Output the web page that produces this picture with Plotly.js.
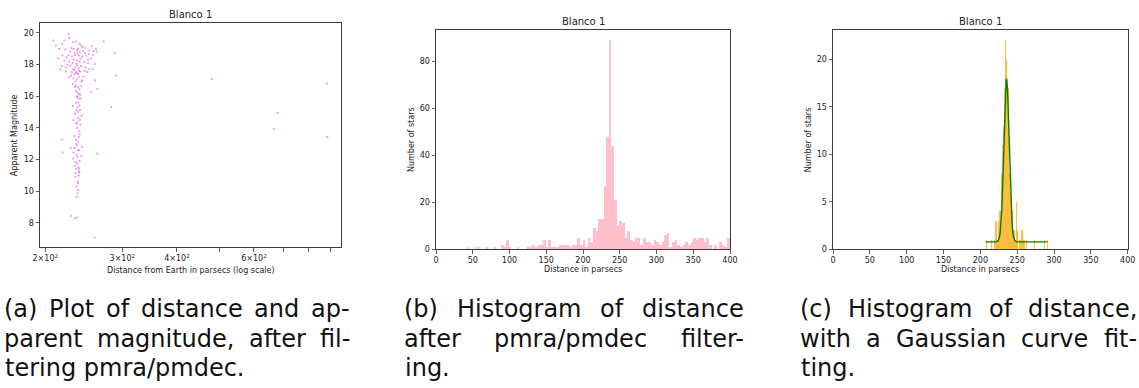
<!DOCTYPE html>
<html><head><meta charset="utf-8">
<script src="https://cdn.plot.ly/plotly-3.0.1.min.js"></script>
<style>html,body{margin:0;padding:0;background:#fff}#chart{width:1139px;height:388px}</style>
</head><body><div id="chart"></div>
<script>
// ---------- DATA ----------
const panelTitle = "Blanco 1";
const scatterDist = [225.9,227,208.5,211.4,221,218.3,231.5,235.1,239.4,243.2,255,272,222,228,232,236.6,240.2,246.7,251.5,262,288,219,223.6,230,234,238.6,243.2,248,254.5,221,227,232,236,239.4,245.5,250.6,259.6,218.3,222.9,228.6,231.5,234,236.6,238.6,241.4,247.5,252.2,222.9,230,233.2,235.1,237.8,240.2,249.3,260,290,232,236,238.6,242.4,231.5,235.1,237.8,239.4,236.6,238.6,254.5,263,
233.5,237,240.8,235.8,233,239,236.2,231,244,226,229.5,241.5,237.5,225,247,252,257,244.5,234.5,240.5,237,235,241,261,258,215,214,216.5,229,242.5,246,250.5,256.5,226.5,233.8,241.8,238,236,234.2,240,237,239.8,235.5,237.8,239.5,238.8,236.2,
236.6,238.6,235.1,231.5,236.6,239.4,240.2,237.8,283,241.9,232,237.8,235.1,240.7,236.6,239.4,233.2,238.6,218.8,235.1,238.2,236,228.6,233.2,242.3,238.6,219,232,236,263,241.9,231.5,236.6,234.5,236.6,233.9,238.2,235.1,234.5,238.6,239.4,234.5,238.6,237.1,237.5,237.8,237.1,236,229,233.2,236,259.6,
480.4,665.8,679.8,881.8,883];
const scatterMag = [19.94,19.67,19.52,19.2,19.52,19.31,19.41,19.46,19.31,19.1,19.16,19.46,18.95,18.83,18.99,18.89,18.78,18.74,18.67,18.83,18.74,18.57,18.47,18.53,18.61,18.57,18.53,18.57,18.4,18.26,18.19,18.32,18.26,18.19,18.15,18.1,18.04,17.9,17.83,17.94,17.73,17.83,17.94,17.77,17.9,17.83,17.73,17.56,17.52,17.41,17.52,17.41,17.56,17.52,17.0,17.31,17.14,17.06,17.2,16.93,16.78,16.68,16.57,16.46,16.25,16.15,16.25,16.46,
18.75,18.7,18.4,18.05,17.65,17.62,17.45,18.1,18.85,18.6,19.05,19.2,19.0,18.0,19.05,18.9,18.6,17.25,16.95,16.1,16.0,16.35,15.85,19.0,18.85,19.0,18.4,17.7,17.3,17.0,17.6,18.3,17.7,17.2,16.6,16.65,15.6,15.15,14.9,14.5,14.35,13.6,13.0,12.6,11.9,11.4,10.3,
15.96,15.86,15.6,15.39,15.33,15.43,15.12,15.01,15.33,14.76,14.49,14.63,14.28,14.21,14.0,13.79,13.49,13.43,13.27,13.24,13.11,12.9,12.74,12.74,12.8,12.59,12.44,12.44,12.32,12.38,12.23,12.07,12.17,11.85,11.75,11.6,11.53,11.41,11.14,11.24,11.2,10.93,10.99,10.61,10.51,10.08,9.87,9.66,8.44,8.29,8.34,7.08,
17.08,13.92,14.95,16.8,13.43];

const histBStart = 41.7, histBWidth = 3.583;
const histBCounts = [1,0,0,1,1,0,0,1,0,0, 1,0,0,2,1,4,1,0,0,1, 0,0,0,1,1,2,1,2,2,4, 1,4,1,1,1,2,2,2,2,1,
  2,2,5,2,4,1,5,3,9,8, 13,13,27,48,89,44,21,10,12,11, 5,8,4,3,5,5,2,5,3,3, 2,4,3,2,3,6,7,1,3,4,
  2,1,2,3,2,3,5,4,5,5, 3,5,2,0,2,0,3,2,1,5];

const histCStart = 207.4, histCWidth = 0.84;
const histCCounts = [1,1,0,1,0,0,1,0,0,1, 0,1,0,3,1,3,2,3,1,2, 3,2,4,4,11,8,11,8,13,15, 17,22,22,20,19,17,17,12,8,6,
  4,4,5,4,2,1,2,1,0,5, 1,2,0,2,1,2,1,2,0,2, 1,0,1,1,0,1,0,0,0,0, 0,0,0,0,0,0,0,0,1,0,
  0,0,0,0,0,0,0,0,0,0, 0,0,1,0,1,0,0,0,0,1];

const gaussX = [207,215,220,222,224,226,227,228,229,230,231,232,233,234,235,235.5,236,237,238,239,240,241,242,243,244,245,247,249,252,260,270,280,291];
const gaussY = [0.78,0.78,0.78,0.80,0.88,1.31,1.84,2.74,4.15,6.13,8.66,11.5,14.3,16.55,17.81,17.98,17.81,16.55,14.3,11.5,8.66,6.13,4.15,2.74,1.84,1.31,0.88,0.80,0.78,0.78,0.78,0.78,0.78];

const aXTickVals = [200,300,400,600];
const aXTickText = ["2×10<sup>2</sup>","3×10<sup>2</sup>","4×10<sup>2</sup>","6×10<sup>2</sup>"];
const aXMinorVals = [500,700,800,900];
const aYTickVals = [8,10,12,14,16,18,20];
const bYTickVals = [0,20,40,60,80];
const cYTickVals = [0,5,10,15,20];
const distTickVals = [0,50,100,150,200,250,300,350,400];

const captionA = ["(a) Plot of distance and ap-","parent magnitude, after fil-","tering pmra/pmdec."];
const captionB = ["(b) Histogram of distance","after pmra/pmdec filter-","ing."];
const captionC = ["(c) Histogram of distance,","with a Gaussian curve fit-","ting."];

// ---------- LAYOUT HELPERS ----------
const W = 1139, H = 388;
const px = x => x / W;
const py = y => 1 - y / H;

const histBX = histBCounts.map((_, i) => histBStart + histBWidth * (i + 0.5));
const histCX = histCCounts.map((_, i) => histCStart + histCWidth * (i + 0.5));

const traces = [
  {type:'scatter', mode:'markers', x:scatterDist, y:scatterMag, xaxis:'x', yaxis:'y',
   marker:{color:'rgba(210,60,220,0.5)', size:2.2, line:{width:0}}, hoverinfo:'skip'},
  {type:'bar', x:histBX, y:histBCounts, width:histBWidth, xaxis:'x2', yaxis:'y2',
   marker:{color:'#FFC0CB', line:{width:0}}, hoverinfo:'skip'},
  {type:'bar', x:histCX, y:histCCounts, width:histCWidth, xaxis:'x3', yaxis:'y3',
   marker:{color:'rgba(255,165,0,0.75)', line:{width:0}}, hoverinfo:'skip'},
  {type:'scatter', mode:'lines', x:gaussX, y:gaussY, xaxis:'x3', yaxis:'y3',
   line:{color:'#008000', width:1.4}, hoverinfo:'skip'}
];

const axisCommon = {showline:true, mirror:true, linecolor:'#3a3a3a', linewidth:1,
  ticks:'outside', ticklen:3.5, tickwidth:0.8, tickcolor:'#3a3a3a',
  showgrid:false, zeroline:false, fixedrange:true,
  tickfont:{family:'DejaVu Sans', size:8, color:'#222'}};

const annFont = (s) => ({family:'DejaVu Sans', size:s, color:'#222'});
const annotations = [];
function addText(text, x, y, size, opts) {
  annotations.push(Object.assign({text, x:px(x), y:py(y), xref:'paper', yref:'paper',
    showarrow:false, xanchor:'center', yanchor:'middle', font:annFont(size)}, opts||{}));
}
addText(panelTitle, 190.5, 15, 10);
addText(panelTitle, 583, 21.5, 10);
addText(panelTitle, 980.3, 21.5, 10);
addText("Distance from Earth in parsecs (log scale)", 190.5, 270, 8);
addText("Apparent Magnitude", 14.7, 135.5, 8, {textangle:-90});
addText("Distance in parsecs", 583, 269.5, 8);
addText("Number of stars", 411, 140, 8, {textangle:-90});
addText("Distance in parsecs", 980.3, 269.5, 8);
addText("Number of stars", 808.3, 140, 8, {textangle:-90});

// captions (justified like the source document)
const capSize = 24, capFamily = 'DejaVu Sans';
const cv = document.createElement('canvas').getContext('2d');
cv.font = capSize + 'px "' + capFamily + '"';
const capLineY = [309, 339, 368];
function addCaption(lines, left, right) {
  lines.forEach((line, li) => {
    const y = capLineY[li];
    const justify = li < lines.length - 1;
    if (!justify) {
      annotations.push({text:line, x:px(left), y:py(y), xref:'paper', yref:'paper', showarrow:false,
        xanchor:'left', yanchor:'middle', font:{family:capFamily, size:capSize, color:'#111'}});
      return;
    }
    const words = line.split(' ');
    const widths = words.map(w => cv.measureText(w).width);
    const total = widths.reduce((a,b)=>a+b,0);
    const gap = (right - left - total) / (words.length - 1);
    let x = left;
    words.forEach((w, i) => {
      annotations.push({text:w, x:px(x), y:py(y), xref:'paper', yref:'paper', showarrow:false,
        xanchor:'left', yanchor:'middle', xshift:-1, font:{family:capFamily, size:capSize, color:'#111'}});
      x += widths[i] + gap;
    });
  });
}
addCaption(captionA, 3, 349);
addCaption(captionB, 403, 743);
addCaption(captionC, 799, 1136);

const layout = {
  width:W, height:H, margin:{l:0,r:0,t:0,b:0}, paper_bgcolor:'#fff', plot_bgcolor:'#fff',
  showlegend:false, bargap:0,
  font:{family:'DejaVu Sans', size:8, color:'#222'},
  xaxis:Object.assign({}, axisCommon, {domain:[px(40), px(341)], anchor:'y', type:'log',
    range:[Math.log10(194.5), Math.log10(948.8)], tickmode:'array', tickvals:aXTickVals, ticktext:aXTickText,
    minor:{tickmode:'array', tickvals:aXMinorVals, ticks:'outside', ticklen:3.5, tickwidth:0.8, tickcolor:'#3a3a3a', showgrid:false}}),
  yaxis:Object.assign({}, axisCommon, {domain:[py(247.3), py(23.3)], anchor:'x', range:[6.46, 20.61],
    tickmode:'array', tickvals:aYTickVals}),
  xaxis2:Object.assign({}, axisCommon, {domain:[px(436), px(730)], anchor:'y2', range:[0,400],
    tickmode:'array', tickvals:distTickVals}),
  yaxis2:Object.assign({}, axisCommon, {domain:[py(249.3), py(30)], anchor:'x2', range:[0,93.45],
    tickmode:'array', tickvals:bYTickVals}),
  xaxis3:Object.assign({}, axisCommon, {domain:[px(833), px(1127.7)], anchor:'y3', range:[0,400],
    tickmode:'array', tickvals:distTickVals}),
  yaxis3:Object.assign({}, axisCommon, {domain:[py(249.3), py(30)], anchor:'x3', range:[0,23.1],
    tickmode:'array', tickvals:cYTickVals}),
  annotations
};

Plotly.newPlot('chart', traces, layout, {displayModeBar:false, staticPlot:true});
</script>
</body></html>
